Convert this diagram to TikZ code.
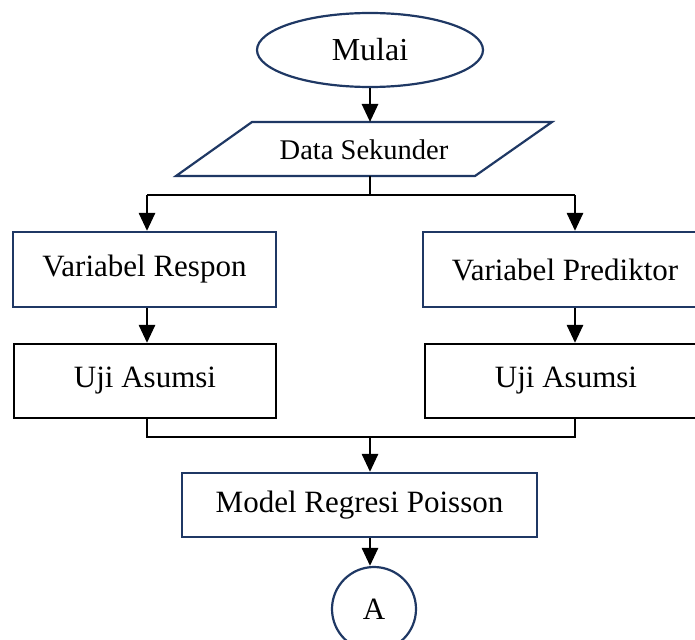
\documentclass[tikz,border=0pt]{standalone}
\usepackage{fontspec}
\setmainfont{Liberation Serif}
\usetikzlibrary{shapes.geometric,arrows.meta}
\definecolor{navy}{RGB}{31,56,100}
\begin{document}
\begin{tikzpicture}[x=1pt,y=-1pt,
  txt/.style={font=\fontsize{31}{36}\selectfont},
  bluebox/.style={txt,draw=navy,line width=2.2pt,rectangle,inner sep=0pt},
  blackbox/.style={txt,draw=black,line width=2.2pt,rectangle,inner sep=0pt},
  conn/.style={line width=2.8pt,black},
  arr/.style={conn,-{Triangle[width=16pt,length=18pt]}}]
\useasboundingbox (0,0) rectangle (695,639);
\clip (0,0) rectangle (695,639);
% start
\node[txt,ellipse,draw=navy,line width=2.2pt,minimum width=226pt,minimum height=74pt,inner sep=0pt,font=\fontsize{32}{36}\selectfont] (mulai) at (370,50) {Mulai};
% data
\draw[navy,line width=2.2pt] (252,122) -- (552,122) -- (475,176) -- (176,176) -- cycle;
\node[font=\fontsize{28.5}{34}\selectfont] (ds) at (364,150) {Data Sekunder};
\coordinate (dst) at (370,122);
\coordinate (dsb) at (370,176);
% boxes
\node[bluebox,minimum width=263pt,minimum height=75pt] (vr) at (144.5,269.5) {Variabel Respon};
\node[bluebox,minimum width=284pt,minimum height=75pt] (vp) at (565,269.5) {Variabel Prediktor};
\node[blackbox,minimum width=262pt,minimum height=74pt] (ul) at (145,381) {Uji Asumsi};
\node[blackbox,minimum width=282pt,minimum height=74pt] (ur) at (566,381) {Uji Asumsi};
\node[bluebox,minimum width=355pt,minimum height=64pt] (mr) at (359.5,505) {Model Regresi Poisson};
\node[txt,circle,draw=navy,line width=2.2pt,minimum size=84pt,inner sep=0pt] (a) at (374,609) {A};
% connectors
\coordinate (jl) at (147,195);
\coordinate (jr) at (575,195);
\coordinate (bl) at (147,437);
\coordinate (br) at (575,437);
\coordinate (bm) at (370,437);
\draw[arr] (mulai.south) -- (dst);
\draw[conn] (dsb) -- (dsb |- jl);
\draw[conn] (jl) -- (jr);
\draw[arr] (jl) -- (jl |- vr.north);
\draw[arr] (jr) -- (jr |- vp.north);
\draw[arr] (vr.south -| jl) -- (ul.north -| jl);
\draw[arr] (vp.south -| jr) -- (ur.north -| jr);
\draw[conn] (ul.south -| bl) -- (bl) -- (br) -- (ur.south -| br);
\draw[arr] (bm) -- (bm |- mr.north);
\draw[arr] (mr.south -| bm) -- (a.north -| bm);
\end{tikzpicture}
\end{document}
